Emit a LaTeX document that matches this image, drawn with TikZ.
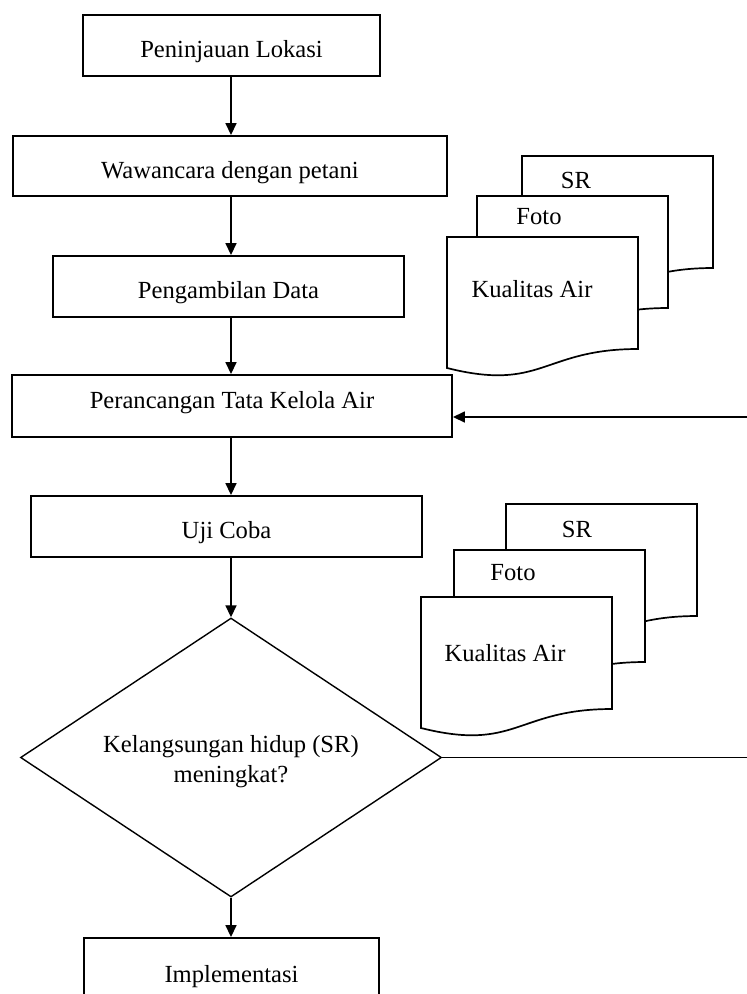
\documentclass[tikz,border=0pt]{standalone}
\usepackage{fontspec}
\setmainfont{Liberation Serif}
\usetikzlibrary{shapes.geometric,arrows.meta}
\begin{document}
\begin{tikzpicture}[x=1pt,y=-1pt,
  every node/.style={font=\fontsize{24.6}{30}\selectfont},
  box/.style={draw,line width=1.9pt,rectangle,inner sep=0pt,fill=white,text height=24pt,text depth=0pt},
  dec/.style={draw,line width=1.4pt,diamond,inner sep=0pt,shape aspect=1.509,minimum width=421pt,minimum height=279pt},
  arr/.style={line width=1.6pt,-{Triangle[length=12pt,width=11pt]}},
  docpic/.pic={\draw[line width=1.7pt,fill=white] (0,0) -- (191,0) -- (191,112) .. controls (95.5,112) and (95.5,155) .. (0,131) -- cycle;},
  lbl/.style={inner sep=0pt}
]
\useasboundingbox (0,0) rectangle (747,994);
\clip (0,0) rectangle (747,994);

\node[box,minimum width=297pt,minimum height=61pt] (b1) at (231.5,45.5) {Peninjauan Lokasi};
\node[box,minimum width=434pt,minimum height=60pt] (b2) at (230,166) {Wawancara dengan petani};
\node[box,minimum width=351pt,minimum height=61pt] (b3) at (228.5,286.5) {Pengambilan Data};
\node[box,minimum width=440pt,minimum height=62pt,text height=17pt,text depth=13pt] (b4) at (232,406) {Perancangan Tata Kelola Air};
\node[box,minimum width=391pt,minimum height=61pt] (b5) at (226.5,526.5) {Uji Coba};
\node[dec] (d) at (231,757.5) {};
\node[lbl,align=center] (dtext) at (231,762) {Kelangsungan hidup (SR)\\meningkat?};
\node[box,minimum width=295pt,minimum height=64pt] (b6) at (231.5,970) {Implementasi};

\coordinate (axis) at (231,0);
\draw[arr] (b1.south -| axis) -- (b2.north -| axis);
\draw[arr] (b2.south -| axis) -- (b3.north -| axis);
\draw[arr] (b3.south -| axis) -- (b4.north -| axis);
\draw[arr] (b4.south -| axis) -- (b5.north -| axis);
\draw[arr] (b5.south -| axis) -- (d.north);
\draw[arr] (d.south) -- (b6.north -| axis);

\coordinate (rt) at (775,757.5);
\draw[arr] (d.east) -- (rt) |- ([yshift=-11pt]b4.east);

% document stack 1
\pic at (522,156) {docpic};
\pic at (477,196) {docpic};
\pic at (447,237) {docpic};
\node[lbl] (s1sr) at (576,180) {SR};
\node[lbl] (s1foto) at (539,217) {Foto};
\node[lbl] (s1ka) at (532,289) {Kualitas Air};

% document stack 2
\pic at (506,504) {docpic};
\pic at (454,550) {docpic};
\pic at (421,597) {docpic};
\node[lbl] (s2sr) at (577,529) {SR};
\node[lbl] (s2foto) at (513,573) {Foto};
\node[lbl] (s2ka) at (505,653) {Kualitas Air};
\end{tikzpicture}
\end{document}
